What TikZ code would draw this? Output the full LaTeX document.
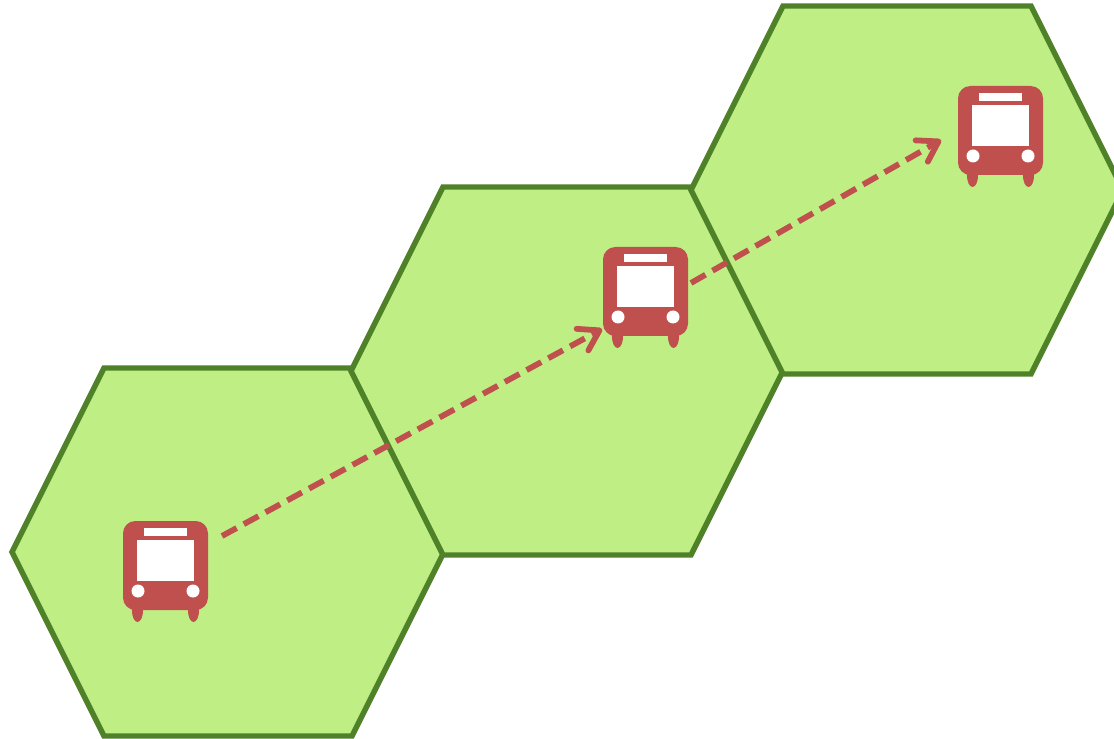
\documentclass[tikz,border=0pt]{standalone}
\usetikzlibrary{arrows.meta}

\definecolor{cellfill}{HTML}{BFEE85}
\definecolor{celledge}{HTML}{4F8129}
\definecolor{busred}{HTML}{C0504D}

\begin{document}
\begin{tikzpicture}[
    x=0.02cm, y=-0.02cm,
    cell/.style={draw=celledge, fill=cellfill, line width=3.1pt},
    route/.style={draw=busred, line width=3.3pt, dash pattern=on 9.5pt off 4.6pt,
      -{Straight Barb[length=11pt, width=14pt, round, line width=3.3pt]}},
    hexcell/.pic={
      \path[cell] (-124,-184) -- (124,-184) -- (216,0) -- (124,184) -- (-124,184) -- (-216,0) -- cycle;
    },
    bus/.pic={
      % wheels
      \fill[busred] (-28,44.5) ellipse (5.6 and 12);
      \fill[busred] (28,44.5) ellipse (5.6 and 12);
      % body, then windows and lights
      \fill[busred, rounded corners=7pt] (-42.5,-44.5) rectangle (42.5,44.5);
      \fill[white] (-21.5,-37.5) rectangle (21.5,-29.5);
      \fill[white] (-28.5,-25.5) rectangle (28.5,15.5);
      \fill[white] (-27.5,25.5) circle (6.5);
      \fill[white] (27.5,25.5) circle (6.5);
    },
  ]
  \useasboundingbox (0,0) rectangle (1114,739);

  % Cells, lower left to upper right
  \pic at (228,552) {hexcell};
  \pic at (567,371) {hexcell};
  \pic at (907,190) {hexcell};

  % Route ends
  \coordinate (startA) at (222,536);
  \coordinate (tipB) at (602,329);
  \coordinate (startB) at (691,283);
  \coordinate (tipC) at (941,140);

  % Route
  \draw[route] (startA) -- (tipB);
  \draw[route] (startB) -- (tipC);

  % Buses
  \pic at (165.5,565.5) {bus};
  \pic at (645.5,291.5) {bus};
  \pic at (1000.5,130.5) {bus};
\end{tikzpicture}
\end{document}
